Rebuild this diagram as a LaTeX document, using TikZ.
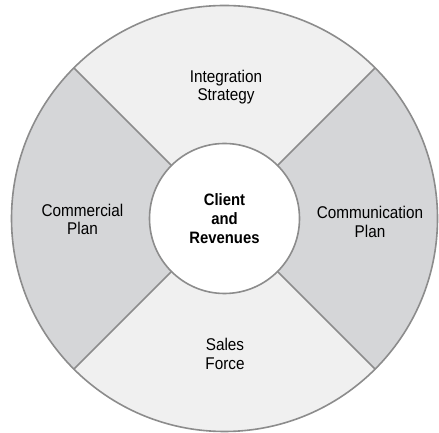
\documentclass[tikz,border=0pt]{standalone}
\usepackage{fontspec}
\setmainfont{Liberation Sans}[FakeStretch=0.9]
\definecolor{ringlight}{HTML}{F0F0F0}
\definecolor{ringdark}{HTML}{D5D6D8}
\definecolor{ringline}{HTML}{8C8C8C}

\begin{document}
\begin{tikzpicture}[
    x=1pt, y=1pt,
    every node/.style={font=\fontsize{17}{18.5}\selectfont, align=center, text=black},
    ringedge/.style={draw=ringline, line width=1.6pt},
    hubstyle/.style={circle, ringedge, fill=white, minimum size=150pt, inner sep=0pt,
        font=\bfseries\fontsize{16.5}{19}\selectfont}
]

\useasboundingbox (0,0) rectangle (439,433);
\coordinate (c) at (224.5,214.5);

% --- Outer ring (light quarters) ---
\fill[ringlight] (c) circle (213);

% --- Darker quarters, left and right ---
\fill[ringdark] (c) -- ++(135:213) arc (135:225:213) -- cycle;
\fill[ringdark] (c) -- ++(-45:213) arc (-45:45:213) -- cycle;

% --- Dividers and rim ---
\foreach \a in {45,135,225,315}
    \draw[ringedge] (c) -- ++(\a:213);
\draw[ringedge] (c) circle (213);

% --- Centre ---
\node[hubstyle] (hub) at (c) {Client\\and\\Revenues};

% --- Quarter labels ---
\node (intstrat) at (226,346) {Integration\\Strategy};
\node (complan) at (82.5,213.5) {Commercial\\Plan};
\node (commplan) at (370,211) {Communication\\Plan};
\node (sales) at (225,79) {Sales\\Force};

\end{tikzpicture}
\end{document}
